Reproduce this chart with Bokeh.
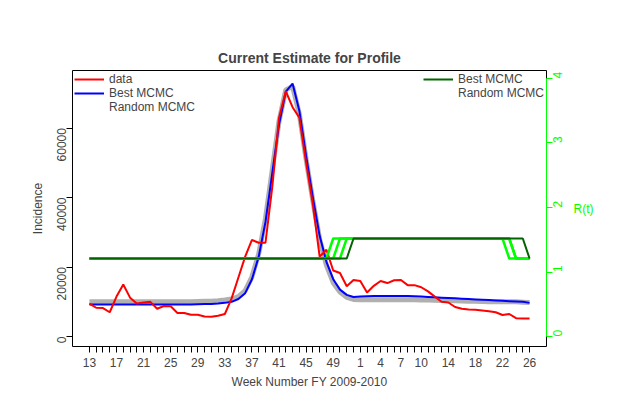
import numpy as np
from bokeh.plotting import figure
from bokeh.models import Range1d, LinearAxis, FixedTicker, Legend, LegendItem
from bokeh.embed import file_html
from bokeh.resources import INLINE

week_idx = list(range(66))
week_labels = {0: "13", 4: "17", 8: "21", 12: "25", 16: "29", 20: "33", 24: "37", 28: "41",
               32: "45", 36: "49", 40: "1", 43: "4", 46: "7", 49: "10", 53: "14", 57: "18",
               61: "22", 65: "26"}

data = [9500, 8300, 8200, 7000, 11500, 15000, 11200, 9500, 9800, 10000, 8000, 8800, 8700,
        6800, 6800, 6300, 6300, 5800, 5700, 6000, 6500, 11000, 17000, 23000, 27800, 27000,
        27000, 43000, 63000, 70600, 66000, 63000, 50000, 38000, 23000, 25000, 19000, 18300,
        14500, 16300, 16000, 12700, 14600, 16000, 15400, 16200, 16300, 14800, 14800, 14200,
        13000, 11500, 10000, 9800, 8500, 8000, 7800, 7700, 7500, 7300, 7000, 6200, 6500,
        5300, 5200, 5200]

best = [9200, 9200, 9200, 9200, 9200, 9200, 9200, 9200, 9200, 9200, 9200, 9200, 9200,
        9200, 9200, 9250, 9300, 9350, 9400, 9500, 9700, 10000, 10800, 12500, 16500, 23000,
        33000, 47000, 61000, 70500, 72800, 65000, 52000, 40000, 29000, 21500, 16500, 13500,
        12000, 11400, 11500, 11600, 11650, 11700, 11700, 11700, 11700, 11650, 11600, 11500,
        11400, 11300, 11200, 11100, 11000, 10900, 10800, 10700, 10600, 10500, 10400, 10300,
        10200, 10100, 10000, 9700]

rand_mcmc = [10000, 10000, 10000, 10000, 10000, 10000, 10000, 10000, 10000, 10000, 10000,
             10000, 10000, 10000, 10000, 10050, 10100, 10150, 10200, 10300, 10500, 10800,
             11500, 13200, 17200, 23800, 34000, 48000, 62000, 71000, 72000, 64000, 51000,
             39000, 28000, 20500, 15500, 12800, 11300, 10700, 10600, 10600, 10600, 10600,
             10600, 10600, 10600, 10600, 10600, 10550, 10500, 10450, 10400, 10350, 10300,
             10250, 10200, 10150, 10100, 10050, 10000, 10000, 10000, 10000, 9900, 9800]

r_best = [1.21] * 39 + [1.52] * 26 + [1.21]
r_rand = [
    [1.21] * 36 + [1.52] * 26 + [1.21] * 4,
    [1.21] * 37 + [1.52] * 26 + [1.21] * 3,
    [1.21] * 38 + [1.52] * 25 + [1.21] * 3,
]

FONT = "Liberation Sans"

p = figure(width=604, height=404, output_backend="svg", toolbar_location=None,
           x_range=Range1d(-2.5, 67.5), y_range=Range1d(-2857, 76570),
           min_border_left=72, min_border_right=58, min_border_top=70, min_border_bottom=58)
p.title.text = "Current Estimate for Profile"
p.title.align = "center"
p.title.text_font = FONT
p.title.text_font_size = "14px"
p.title.text_font_style = "bold"
p.title.offset = 12
p.grid.visible = False
p.outline_line_color = "black"
p.background_fill_color = "white"

p.extra_y_ranges = {"r": Range1d(-0.154, 4.123)}

# left axis
p.yaxis.ticker = FixedTicker(ticks=[0, 20000, 40000, 60000])
p.yaxis.bounds = (0, 60000)
p.yaxis.major_label_orientation = np.pi / 2
p.yaxis.minor_tick_line_color = None
p.yaxis.axis_label = "Incidence"
for ax in [p.yaxis[0], p.xaxis[0]]:
    ax.axis_label_text_font = FONT
    ax.axis_label_text_font_style = "normal"
    ax.axis_label_text_font_size = "12px"
    ax.major_label_text_font = FONT
    ax.major_label_text_font_size = "12px"
    ax.major_tick_out = 6
    ax.major_tick_in = 0

p.xaxis.ticker = FixedTicker(ticks=week_idx)
p.xaxis.major_label_overrides = {i: week_labels.get(i, "") for i in week_idx}
p.xaxis.bounds = (0, 65)
p.xaxis.minor_tick_line_color = None
p.xaxis.axis_label = "Week Number FY 2009-2010"

ra = LinearAxis(y_range_name="r", ticker=FixedTicker(ticks=[0, 1, 2, 3, 4]), bounds=(0, 4),
                axis_label="R(t)", axis_line_color="#00ff00", major_tick_line_color="#00ff00",
                major_label_text_color="#00ff00", axis_label_text_color="#00ff00",
                axis_label_orientation="horizontal", axis_label_standoff=4,
                major_label_orientation=np.pi / 2, minor_tick_line_color=None,
                axis_label_text_font=FONT, axis_label_text_font_style="normal",
                axis_label_text_font_size="12px", major_label_text_font=FONT,
                major_label_text_font_size="12px", major_tick_out=6, major_tick_in=0)
p.add_layout(ra, "right")

gray = p.line(week_idx, rand_mcmc, color="#b0b0b0", line_width=5)
blue = p.line(week_idx, best, color="blue", line_width=2)
red = p.line(week_idx, data, color="red", line_width=2)

rg = None
for r in r_rand:
    rg = p.line(week_idx, r, color="#00ff00", line_width=2.5, y_range_name="r")
dg = p.line(week_idx, r_best, color="#006400", line_width=2, y_range_name="r")

# legend swatches drawn thin, as in the reference
sw_gray = p.line([], [], color="#b0b0b0", line_width=2)
sw_rg = p.line([], [], color="#00ff00", line_width=2)

for items, loc in [([("data", red), ("Best MCMC", blue), ("Random MCMC", sw_gray)], "top_left"),
                   ([("Best MCMC", dg), ("Random MCMC", sw_rg)], "top_right")]:
    lg = Legend(items=[LegendItem(label=t, renderers=[r]) for t, r in items], location=loc,
                border_line_color=None, background_fill_alpha=0, label_text_font=FONT,
                label_text_font_size="12px", glyph_width=30, glyph_height=12,
                label_height=12, spacing=0, padding=4, margin=2)
    p.add_layout(lg)

open("out.html", "w").write(file_html(p, INLINE))
